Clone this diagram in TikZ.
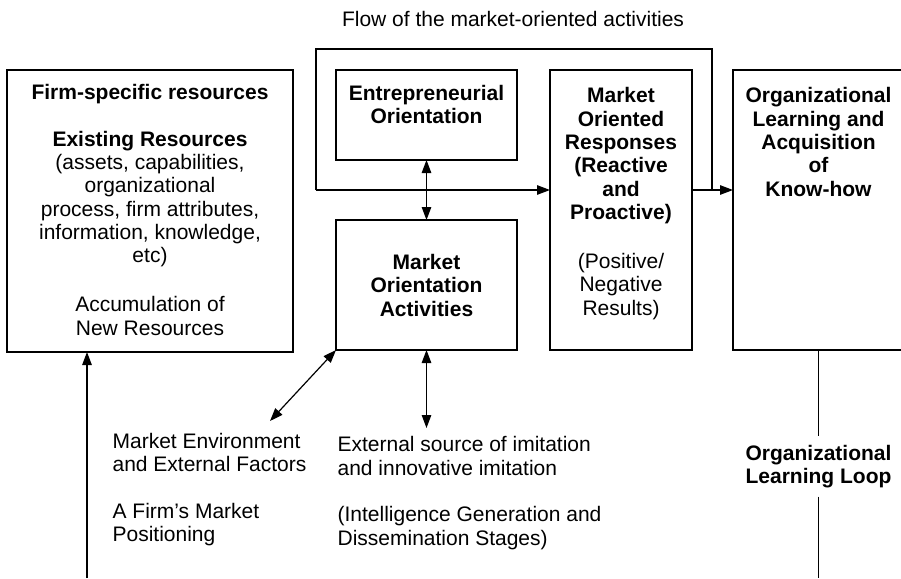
\documentclass[tikz,border=0pt]{standalone}
\usepackage{fontspec}
\setmainfont{Liberation Sans}
\usetikzlibrary{arrows.meta}

\begin{document}
\begin{tikzpicture}[x=1pt,y=-1pt,line width=1.2pt,
  box node/.style={draw,rectangle,inner sep=0pt,outer sep=0pt},
  text node/.style={font=\fontsize{21}{23.3}\selectfont,align=center,inner sep=0pt},
  side text/.style={font=\fontsize{21}{23.3}\selectfont,align=left,inner sep=0pt},
  >={Triangle[length=13pt,width=9.5pt]}]

  \useasboundingbox (0,0) rectangle (901,578);

  \node[text node,anchor=base] (flow) at (513,27) {Flow of the market-oriented activities};

  \node[box node,minimum width=286pt,minimum height=282pt] (frs) at (150,211){};
  \node[box node,minimum width=181pt,minimum height=90pt] (eo) at (426.5,115){};
  \node[box node,minimum width=181pt,minimum height=130pt] (moa) at (426.5,285){};
  \node[box node,minimum width=142pt,minimum height=280pt] (mor) at (621,210){};
  \node[box node,minimum width=172pt,minimum height=280pt] (olk) at (819,210){};

  % texts sit on the baseline of their last line
  \node[text node,anchor=base] (frs text) at (150,335) {\textbf{Firm-specific resources}\\[23.7pt]
    \textbf{Existing Resources}\\(assets, capabilities,\\organizational\\process, firm attributes,\\
    information, knowledge,\\etc)\\[25.7pt]Accumulation of\\New Resources};
  \node[text node,anchor=base] (eo text) at (426.5,123.5) {\textbf{Entrepreneurial}\\\textbf{Orientation}};
  \node[text node,anchor=base] (moa text) at (426.5,316) {\textbf{Market}\\\textbf{Orientation}\\\textbf{Activities}};
  \node[text node,anchor=base] (mor text) at (621,315) {\textbf{Market}\\\textbf{Oriented}\\\textbf{Responses}\\
    \textbf{(Reactive}\\\textbf{and}\\\textbf{Proactive)}\\[25.7pt](Positive/\\Negative\\Results)};
  \node[text node,anchor=base] (olk text) at (818.5,196) {\textbf{Organizational}\\\textbf{Learning and}\\
    \textbf{Acquisition}\\\textbf{of}\\\textbf{Know-how}};

  \node[side text,anchor=base west] (env) at (112,541.7) {Market Environment\\and External Factors\\[23.3pt]
    A Firm's Market\\Positioning};
  \node[side text,anchor=base west] (ext) at (337,545) {External source of imitation\\and innovative imitation\\[23.4pt]
    (Intelligence Generation and\\Dissemination Stages)};
  \node[text node,anchor=base,inner sep=8pt] (loop) at (818.5,483.5) {\textbf{Organizational}\\\textbf{Learning Loop}};

  \coordinate (fs) at (316,190);
  \coordinate (fj) at (712,190);
  \coordinate (ftop) at (712,49);
  \coordinate (env end) at (270,421);
  \coordinate (ext end) at (426.5,428);
  \coordinate (acc end) at (87,578);
  \coordinate (loop end) at (818.5,578);

  % flow of the activities
  \draw (fs) |- (ftop) -- (fj);
  \path[->] (fs) edge (fs -| mor.west)
    (mor.east |- fj) edge (fj -| olk.west)
    (acc end) edge (acc end |- frs.south);

  \path[<->] (eo) edge (moa)
    (moa.south west) edge (env end)
    (moa.south) edge (ext end);

  % learning loop
  \path (olk.south -| loop) edge (loop)
    (loop) edge (loop end);
\end{tikzpicture}
\end{document}
